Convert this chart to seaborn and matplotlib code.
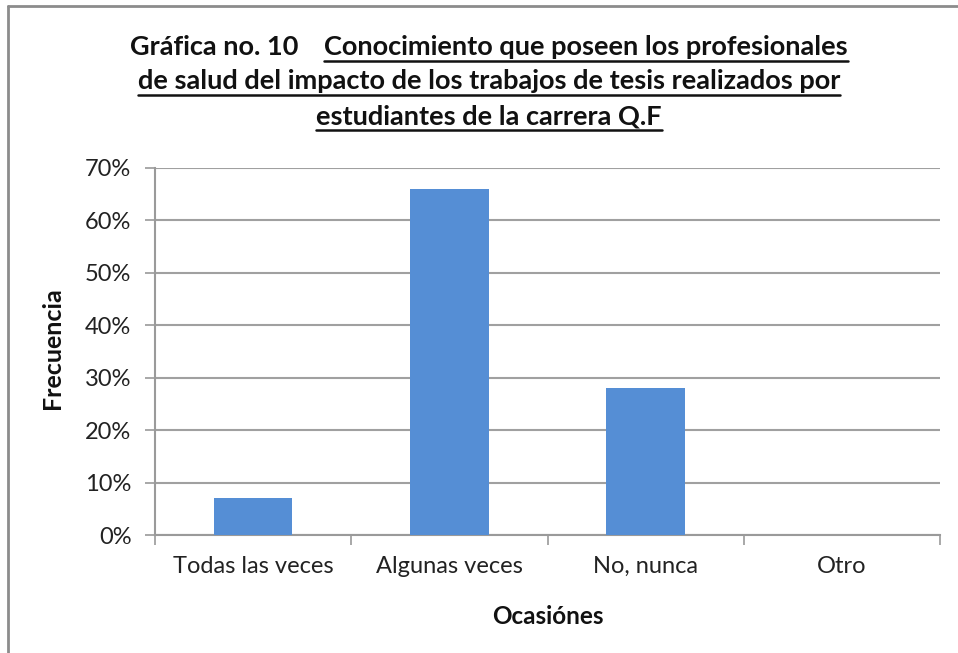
import matplotlib
matplotlib.use("Agg")
import matplotlib.pyplot as plt
from matplotlib.lines import Line2D
from matplotlib.ticker import PercentFormatter
import pandas as pd
import seaborn as sns

# datos de la grafica
categorias = ["Todas las veces", "Algunas veces", "No, nunca", "Otro"]
frecuencia = [0.07, 0.66, 0.28, 0.0]
yticks = [0.0, 0.1, 0.2, 0.3, 0.4, 0.5, 0.6, 0.7]
titulo_prefijo = "Gráfica no. 10"
titulo_lineas = ["Conocimiento que poseen los profesionales",
                 "de salud del impacto de los trabajos de tesis realizados por",
                 "estudiantes de la carrera Q.F"]

sns.set_theme(style="white")
plt.rcParams["font.family"] = ["Lato", "DejaVu Sans"]

df = pd.DataFrame({"Ocasiónes": categorias, "Frecuencia": frecuencia})

W, H = 958, 653
fig = plt.figure(figsize=(W / 100, H / 100), dpi=100)
ax = fig.add_axes([155 / W, 1 - 535 / H, 785 / W, 367 / H])

sns.barplot(data=df, x="Ocasiónes", y="Frecuencia", color="#558ed5",
            saturation=1, width=0.4, linewidth=0, ax=ax, zorder=3)

ax.set_ylim(0, 0.7)
ax.set_xlim(-0.5, len(categorias) - 0.5)
ax.set_yticks(yticks)
ax.yaxis.set_major_formatter(PercentFormatter(1.0, decimals=0))
ax.grid(axis="y", color="#a0a0a0", linewidth=1.5, zorder=0)
ax.set_axisbelow(True)

for s in ["top", "right"]:
    ax.spines[s].set_visible(False)
for s in ["left", "bottom"]:
    ax.spines[s].set_color("#9a9a9a")
    ax.spines[s].set_linewidth(1.5)

ax.tick_params(axis="y", length=7, width=1.2, color="#9a9a9a", pad=10,
               labelsize=17, labelcolor="#222222", left=True)
ax.set_xticks(range(len(categorias)))
ax.set_xticklabels(categorias)
ax.set_xticks([i - 0.5 for i in range(len(categorias) + 1)], minor=True)
ax.tick_params(axis="x", which="major", length=0, pad=15, labelsize=17,
               labelcolor="#222222")
ax.tick_params(axis="x", which="minor", length=7, width=1.2, color="#9a9a9a",
               bottom=True)

ax.set_xlabel("Ocasiónes", fontsize=17.5, fontweight="bold", color="#111111")
ax.set_ylabel("Frecuencia", fontsize=18, fontweight="bold", color="#111111")
ax.xaxis.set_label_coords(0.5, (535 - 617) / 367)
ax.xaxis.label.set_va("center")
ax.yaxis.set_label_coords((52 - 155) / 785, (535 - 348) / 367)
ax.yaxis.label.set_va("center")

# marco del grafico
fig.add_artist(Line2D([8 / W, 8 / W], [0, 1 - 6 / H], color="#8c8c8c", lw=2))
fig.add_artist(Line2D([8 / W, 1], [1 - 6 / H, 1 - 6 / H], color="#8c8c8c", lw=2))

# titulo con subrayado
fig.canvas.draw()
renderer = fig.canvas.get_renderer()
centro = 489
baselines = [55, 89, 124]
gap = 26
tsize = 19.5
for i, linea in enumerate(titulo_lineas):
    yb = 1 - baselines[i] / H
    t = fig.text(0, yb, linea, fontsize=tsize, fontweight="bold",
                 va="baseline", ha="left", color="#111111")
    w = t.get_window_extent(renderer).width
    if i == 0:
        p = fig.text(0, yb, titulo_prefijo, fontsize=tsize, fontweight="bold",
                     va="baseline", ha="left", color="#111111")
        wp = p.get_window_extent(renderer).width
        x0 = centro - (wp + gap + w) / 2
        p.set_x(x0 / W)
        xs = x0 + wp + gap
    else:
        xs = centro - w / 2
    t.set_x(xs / W)
    yu = 1 - (baselines[i] + 6) / H
    fig.add_artist(Line2D([xs / W, (xs + w) / W], [yu, yu], color="#111111", lw=1.8))

fig.savefig("out.png", dpi=100)
